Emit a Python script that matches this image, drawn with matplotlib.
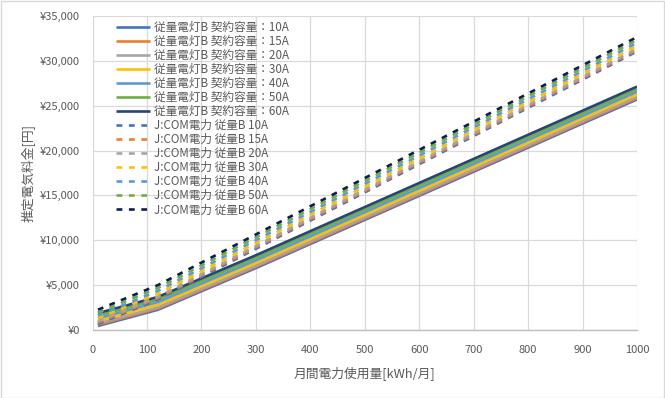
import matplotlib
matplotlib.use("Agg")
import matplotlib.pyplot as plt
from matplotlib.patches import Rectangle
from matplotlib.ticker import FuncFormatter

plt.rcParams['font.family'] = ['Noto Sans CJK JP', 'DejaVu Sans']

# 月間電力使用量 [kWh/月] (折れ点)
usage = [10, 120, 300, 1000]

# 従量電灯B (東京電力) 推定料金 [円]
tepco_10a = [450, 2250, 6900, 25700]
tepco_15a = [593, 2393, 7043, 25843]
tepco_20a = [736, 2536, 7186, 25986]
tepco_30a = [1022, 2822, 7472, 26272]
tepco_40a = [1308, 3108, 7758, 26558]
tepco_50a = [1594, 3394, 8044, 26844]
tepco_60a = [1880, 3680, 8330, 27130]

# J:COM電力 従量B 推定料金 [円]
jcom_10a = [660, 3400, 9050, 31050]
jcom_15a = [820, 3560, 9210, 31210]
jcom_20a = [980, 3720, 9370, 31370]
jcom_30a = [1300, 4040, 9690, 31690]
jcom_40a = [1620, 4360, 10010, 32010]
jcom_50a = [1940, 4680, 10330, 32330]
jcom_60a = [2260, 5000, 10650, 32650]

amps = ["10A", "15A", "20A", "30A", "40A", "50A", "60A"]
tepco = [tepco_10a, tepco_15a, tepco_20a, tepco_30a, tepco_40a, tepco_50a, tepco_60a]
jcom = [jcom_10a, jcom_15a, jcom_20a, jcom_30a, jcom_40a, jcom_50a, jcom_60a]

solid_colors = ['#4472C4', '#ED7D31', '#A5A5A5', '#FFC000', '#5B9BD5', '#70AD47', '#264478']
dash_colors = ['#4472C4', '#ED7D31', '#A5A5A5', '#FFC000', '#5B9BD5', '#70AD47', '#0E1F4F']

fig = plt.figure(figsize=(6.65, 3.98), dpi=100)
ax = fig.add_axes([92.5 / 665, 1 - 330 / 398, 544.5 / 665, 314 / 398])

for a, vals, c in zip(amps, tepco, solid_colors):
    ax.plot(usage, vals, color=c, lw=1.9, label="従量電灯B 契約容量：" + a,
            solid_capstyle='butt')

for a, vals, c in zip(amps, jcom, dash_colors):
    ax.plot(usage, vals, color=c, lw=1.9, linestyle=(0, (2.2, 2.5)),
            dash_capstyle='butt', label="J:COM電力 従量B " + a)

ax.set_xlim(0, 1000)
ax.set_ylim(0, 35000)
ax.set_xticks(range(0, 1001, 100))
ax.set_yticks(range(0, 35001, 5000))
ax.yaxis.set_major_formatter(FuncFormatter(lambda v, p: "¥{:,}".format(int(v))))
ax.grid(True, color='#D9D9D9', lw=0.9)
ax.set_axisbelow(True)
for s in ['top', 'right', 'left']:
    ax.spines[s].set_visible(False)
ax.spines['bottom'].set_color('#BFBFBF')
ax.spines['bottom'].set_linewidth(1.0)
ax.tick_params(length=0, labelsize=8, labelcolor='#595959')
ax.tick_params(axis='x', pad=10.5)
ax.tick_params(axis='y', pad=9)

ax.set_xlabel("月間電力使用量[kWh/月]", fontsize=9.2, color='#595959', labelpad=8)
ax.set_ylabel("推定電気料金[円]", fontsize=9.2, color='#595959', labelpad=3)

leg = ax.legend(loc='upper left', bbox_to_anchor=(0.044, 0.985), frameon=False,
                fontsize=8.4, handlelength=2.9, handletextpad=0.35,
                labelspacing=0.09, borderpad=0, borderaxespad=0)
for t in leg.get_texts():
    t.set_color('#595959')

fig.patches.append(Rectangle((0.001, 0.001), 0.997, 0.997, transform=fig.transFigure,
                             fill=False, edgecolor='#D9D9D9', lw=1.0))

fig.savefig("out.png", dpi=100)
